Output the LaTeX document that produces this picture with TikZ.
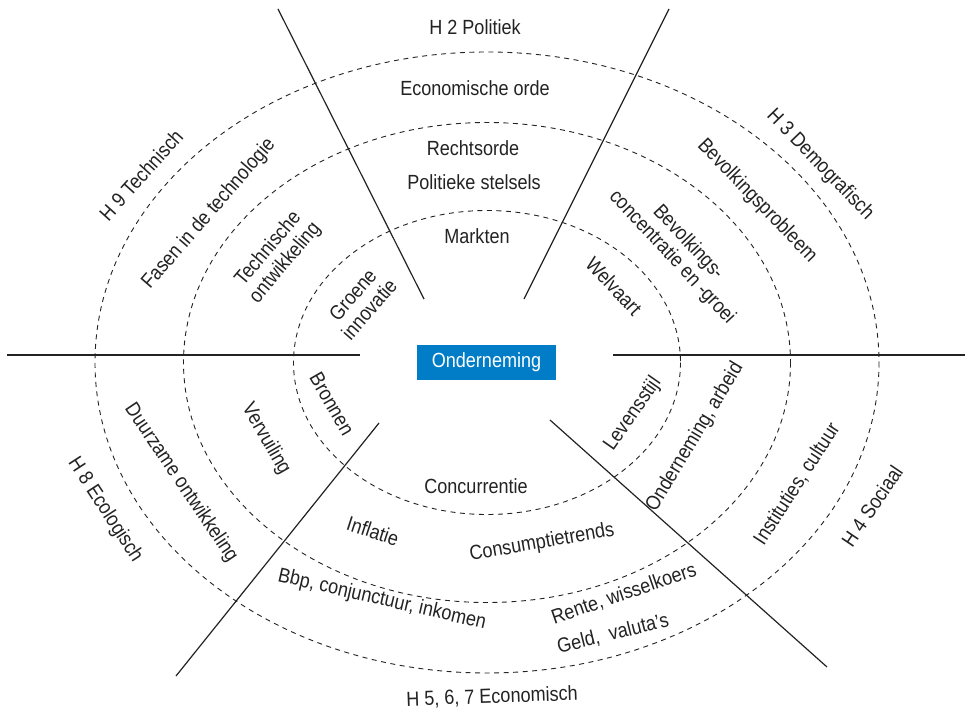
\documentclass[tikz,border=0pt]{standalone}
\usepackage{fontspec}
\setmainfont{Liberation Sans}[FakeStretch=0.88]
\definecolor{boxblue}{RGB}{0,125,198}
\definecolor{inkgray}{RGB}{35,35,35}
\begin{document}
\begin{tikzpicture}[x=1pt,y=-1pt,
  lbl/.style={font=\fontsize{20.5}{22}\selectfont, inner sep=0pt, text=inkgray, align=center},
  ring/.style={draw=inkgray, line width=0.9pt, dash pattern=on 5pt off 4.5pt},
  divider/.style={draw=inkgray, line width=1.2pt}]
\useasboundingbox (0,0) rectangle (965,714);
\fill[white] (0,0) rectangle (965,714);
% rings
\coordinate (c) at (487,362.5);
\draw[ring] (c) ellipse [x radius=392, y radius=310.5];
\draw[ring] (c) ellipse [x radius=303.5, y radius=240];
\draw[ring] (c) ellipse [x radius=193.5, y radius=152];
% dividers
\coordinate (hl1) at (7,355); \coordinate (hl2) at (360,355);
\coordinate (hr1) at (613,355); \coordinate (hr2) at (965,355);
\coordinate (tl1) at (278,9); \coordinate (tl2) at (424,299);
\coordinate (tr1) at (669,9); \coordinate (tr2) at (524,299);
\coordinate (bl1) at (379,423); \coordinate (bl2) at (176,676);
\coordinate (br1) at (550,420); \coordinate (br2) at (827,667);
\draw[divider] (hl1) -- (hl2);
\draw[divider] (hr1) -- (hr2);
\draw[divider] (tl1) -- (tl2);
\draw[divider] (tr1) -- (tr2);
\draw[divider] (bl1) -- (bl2);
\draw[divider] (br1) -- (br2);
% centre
\node[fill=boxblue, text=white, minimum width=139pt, minimum height=35pt, inner sep=0pt,
  font=\fontsize{20.5}{22}\selectfont] (ond) at (486.5,362.5) {Onderneming};
% top
\node[lbl] (h2) at (475,27) {H 2 Politiek};
\node[lbl] (eco) at (475,88) {Economische orde};
\node[lbl] (recht) at (473,148) {Rechtsorde};
\node[lbl] (pol) at (474,182) {Politieke stelsels};
\node[lbl] (markt) at (477,236) {Markten};
% top left
\node[lbl, rotate=48] (h9) at (141,175) {H 9 Technisch};
\node[lbl, rotate=49] (fasen) at (209,214) {Fasen in de technologie};
\node[lbl, rotate=50] (tech) at (277,256) {Technische\\ontwikkeling};
\node[lbl, rotate=49] (groen) at (361,302) {Groene\\innovatie};
% top right
\node[lbl, rotate=-46] (h3) at (820,165) {H 3 Demografisch};
\node[lbl, rotate=-46] (bevp) at (757,201) {Bevolkingsprobleem};
\node[lbl, rotate=-47] (bevc) at (680,250) {Bevolkings-\\concentratie en -groei};
\node[lbl, rotate=-47] (welv) at (614,286) {Welvaart};
% bottom right
\node[lbl, rotate=55] (lev) at (633,414) {Levensstijl};
\node[lbl, rotate=59] (arb) at (695,437) {Onderneming, arbeid};
\node[lbl, rotate=57] (inst) at (797,484) {Instituties, cultuur};
\node[lbl, rotate=56] (h4) at (872,506) {H 4 Sociaal};
% bottom
\node[lbl, rotate=2] (h5) at (492,697) {H 5, 6, 7 Economisch};
\node[lbl] (conc) at (476,486) {Concurrentie};
\node[lbl, rotate=-18] (infl) at (373,531) {Inflatie};
\node[lbl, rotate=10] (cons) at (542,543) {Consumptietrends};
\node[lbl, rotate=-13] (bbp) at (382,600) {Bbp, conjunctuur, inkomen};
\node[lbl, rotate=19] (rente) at (624,594) {Rente, wisselkoers};
\node[lbl, rotate=14] (geld) at (613,634) {Geld,\ \ valuta’s};
% bottom left
\node[lbl, rotate=-60] (bron) at (332,404) {Bronnen};
\node[lbl, rotate=-60] (verv) at (266,439) {Vervuiling};
\node[lbl, rotate=-56] (duur) at (181,483) {Duurzame ontwikkeling};
\node[lbl, rotate=-57] (h8) at (105,510) {H 8 Ecologisch};
\end{tikzpicture}
\end{document}
